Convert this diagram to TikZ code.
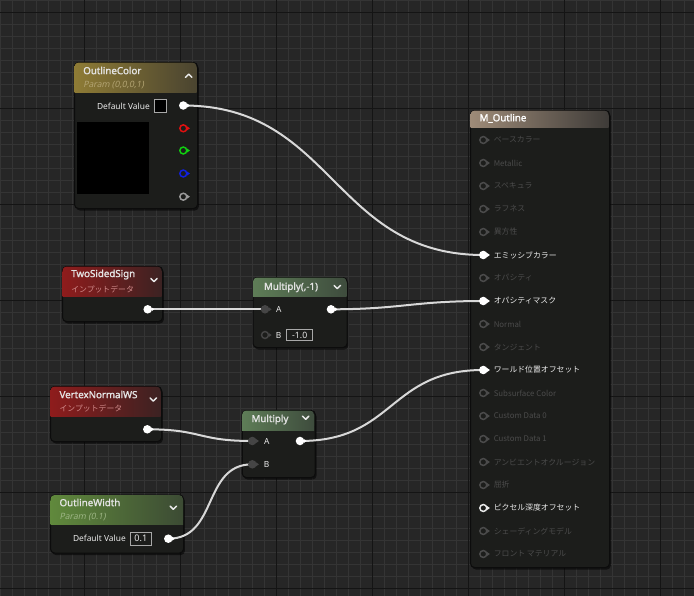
\documentclass[tikz,border=0pt]{standalone}
\usepackage{fontspec}
\setmainfont{Noto Sans}
\newfontfamily\jp{Noto Sans CJK JP}
\newfontfamily\ttlfont{Noto Sans}[FakeBold=1.6]
\newfontfamily\itfont{Noto Sans}[FakeSlant=0.2]
\usetikzlibrary{shadows}
\definecolor{bgc}{HTML}{262626}
\definecolor{minorc}{HTML}{343434}
\definecolor{majorc}{HTML}{141414}
\definecolor{bodyc}{HTML}{1C1D1B}
\definecolor{rimc}{HTML}{0C0C0C}
\definecolor{wirec}{HTML}{D8D8D8}
\definecolor{offc}{HTML}{4B4B4B}
\definecolor{onc}{HTML}{EAEAEA}
\definecolor{ttlc}{HTML}{E4E4E4}
\definecolor{goldL}{HTML}{8E7B35}
\definecolor{goldR}{HTML}{4A4430}
\definecolor{redL}{HTML}{8E1C1C}
\definecolor{redR}{HTML}{3C2222}
\definecolor{mulL}{HTML}{5E7D57}
\definecolor{mulR}{HTML}{3E4C3D}
\definecolor{grnL}{HTML}{60893C}
\definecolor{grnR}{HTML}{3C4B34}
\definecolor{tanL}{HTML}{9E8B78}
\definecolor{tanR}{HTML}{3E3B38}
\definecolor{goldsub}{HTML}{B3A473}
\definecolor{redsub}{HTML}{D08A8A}
\definecolor{grnsub}{HTML}{9DB585}
\definecolor{pinA}{HTML}{454545}
\definecolor{pinR}{HTML}{E01010}
\definecolor{pinG}{HTML}{10D010}
\definecolor{pinB}{HTML}{1020E0}
\definecolor{pinW}{HTML}{9A9A9A}
\definecolor{boxc}{HTML}{A8A8A8}
\tikzset{
  nbody/.style={draw=rimc, line width=0.8pt, fill=bodyc, rounded corners=3pt, inner sep=0pt, anchor=north west,
    drop shadow={shadow xshift=1pt, shadow yshift=-1.5pt, opacity=0.55, fill=black}},
  ttl/.style={font=\fontsize{7.3}{8}\selectfont\ttlfont, text=ttlc, inner sep=0pt},
  sub/.style={font=\fontsize{6.5}{7}\selectfont\itfont, inner sep=0pt},
  jsub/.style={font=\fontsize{5.9}{7}\selectfont\jp, inner sep=0pt},
  lbl/.style={font=\fontsize{6.3}{7}\selectfont, text=onc, inner sep=0pt},
  mlbl/.style={font=\fontsize{5.9}{7}\selectfont\jp, inner sep=0pt},
  vbox/.style={draw=boxc, line width=0.6pt, inner sep=0pt, text=onc},
  pinc/.style={circle, minimum size=5.2pt, inner sep=0pt, line width=1.1pt},
  wire/.style={draw=wirec, line width=1.5pt},
  chev/.style={draw=onc, line width=1.1pt, line cap=round, line join=round},
}
\newcommand{\hdr}[6]{%
  \fill[left color=#5, right color=#6, rounded corners=3pt] (#1,#2) rectangle (#3,#4);
  \fill[left color=#5, right color=#6] (#1,#2+5) rectangle (#3,#4);}
\newcommand{\opin}[5]{%
  \node[pinc, draw=#4, fill=#5] (#1) at (#2,#3) {};
  \fill[#4] ([xshift=-0.3pt]#1.east) ++(0,1.5pt) -- ++(2.1pt,-1.5pt) -- ++(-2.1pt,-1.5pt) -- cycle;}
\newcommand{\mrow}[6]{%
  \opin{#1}{483.3}{#2}{#3}{#4}
  \node[mlbl, text=#5, anchor=west] (#1-l) at (493.5,#2) {#6};}
\newcommand{\chevdown}[2]{\draw[chev] (#1-3.2,#2-1.6) -- (#1,#2+1.6) -- (#1+3.2,#2-1.6);}
\newcommand{\chevup}[2]{\draw[chev] (#1-3.2,#2+1.6) -- (#1,#2-1.6) -- (#1+3.2,#2+1.6);}
\begin{document}
\begin{tikzpicture}[x=0.75pt,y=-0.75pt]
% background grid
\fill[bgc] (0,0) rectangle (694,596);
\useasboundingbox (0,0) rectangle (694,596);
\foreach \i in {0,...,57} \draw[minorc, line width=0.75pt] (0.7+12*\i,0) -- (0.7+12*\i,596);
\foreach \i in {0,...,49} \draw[minorc, line width=0.75pt] (0,0.3+12*\i) -- (694,0.3+12*\i);
\foreach \i in {0,...,6} \draw[majorc, line width=1pt] (84.7+96*\i,0) -- (84.7+96*\i,596);
\foreach \i in {0,...,6} \draw[majorc, line width=1pt] (0,12.3+96*\i) -- (694,12.3+96*\i);

% ---------- node bodies ----------
\node[nbody, minimum width=123*0.75pt, minimum height=146*0.75pt] (oc) at (74,62) {};
\hdr{74.5}{62.5}{196.5}{92}{goldL}{goldR}
\node[nbody, minimum width=100*0.75pt, minimum height=55*0.75pt] (tss) at (62,266) {};
\hdr{62.5}{266.5}{161.5}{296}{redL}{redR}
\node[nbody, minimum width=94*0.75pt, minimum height=70*0.75pt] (mm1) at (252.5,277) {};
\hdr{253}{277.5}{346.5}{296}{mulL}{mulR}
\node[nbody, minimum width=111*0.75pt, minimum height=55*0.75pt] (vn) at (50,386) {};
\hdr{50.5}{386.5}{160.5}{416}{redL}{redR}
\node[nbody, minimum width=73*0.75pt, minimum height=67*0.75pt] (mul) at (241.7,410) {};
\hdr{242.2}{410.5}{314}{430}{mulL}{mulR}
\node[nbody, minimum width=133*0.75pt, minimum height=58*0.75pt] (ow) at (50,494.5) {};
\hdr{50.5}{495}{183}{524}{grnL}{grnR}
\node[nbody, minimum width=139*0.75pt, minimum height=457*0.75pt] (mo) at (470,110) {};
\hdr{470.5}{110.5}{608.5}{127}{tanL}{tanR}

% ---------- OutlineColor ----------
\node[ttl, anchor=west] (oc-t) at (83,70.5) {OutlineColor};
\node[sub, text=goldsub, anchor=west] (oc-s) at (83,85) {Param (0,0,0,1)};
\chevup{188.7}{75.7}
\node[lbl, anchor=east] (oc-dv) at (150,106) {Default Value};
\node[draw=boxc, fill=black, line width=0.6pt, minimum width=12.5*0.75pt, minimum height=12.5*0.75pt, inner sep=0pt] (oc-sw) at (160.3,105.8) {};
\fill[black] (76.7,121.7) rectangle (149,194);

% ---------- TwoSidedSign ----------
\node[ttl, anchor=west] (tss-t) at (71,274.5) {TwoSidedSign};
\node[jsub, text=redsub, anchor=west] (tss-s) at (71,289) {インプットデータ};
\chevdown{154}{280}

% ---------- Multiply(,-1) ----------
\node[ttl] (mm1-t) at (291,287.3) {Multiply(,-1)};
\chevdown{337.3}{287}
\node[lbl] (mm1-al) at (278.7,309.5) {A};
\node[lbl] (mm1-bl) at (278.7,335.3) {B};
\node[vbox, minimum width=26*0.75pt, minimum height=11.5*0.75pt, font=\fontsize{6.5}{7}\selectfont] (mm1-bv) at (299.7,335) {-1.0};

% ---------- VertexNormalWS ----------
\node[ttl, anchor=west] (vn-t) at (59.3,394.5) {VertexNormalWS};
\node[jsub, text=redsub, anchor=west] (vn-s) at (59.3,408.5) {インプットデータ};
\chevdown{153.3}{399.5}

% ---------- Multiply ----------
\node[ttl] (mul-t) at (270,419.5) {Multiply};
\chevdown{305.7}{417.7}
\node[lbl] (mul-al) at (266.7,441.3) {A};
\node[lbl] (mul-bl) at (266.7,464.6) {B};

% ---------- OutlineWidth ----------
\node[ttl, anchor=west] (ow-t) at (59.3,502.5) {OutlineWidth};
\node[sub, text=grnsub, anchor=west] (ow-s) at (59.3,517) {Param (0.1)};
\chevdown{173.3}{507.7}
\node[lbl, anchor=east] (ow-dv) at (126,538.7) {Default Value};
\node[vbox, minimum width=21.5*0.75pt, minimum height=13.5*0.75pt, font=\fontsize{6.8}{7}\selectfont] (ow-bv) at (140.8,538.7) {0.1};

% ---------- M_Outline ----------
\node[ttl, text=white, anchor=west] (mo-t) at (479.3,118.3) {M\_Outline};

% ---------- pin centres used by wires ----------
\coordinate (oc-p) at (183.3,105.5);
\coordinate (tss-p) at (147.7,309.3);
\coordinate (mm1-a) at (265,309.3);
\coordinate (mm1-o) at (331,309.3);
\coordinate (vn-p) at (147.3,429.3);
\coordinate (mul-a) at (252.3,441);
\coordinate (mul-b) at (252.3,464.3);
\coordinate (mul-o) at (300,441);
\coordinate (ow-p) at (168.3,538.7);
\coordinate (mo-em) at (483.3,255);
\coordinate (mo-om) at (483.3,301);
\coordinate (mo-wp) at (483.3,370);

% ---------- wires ----------
\draw[wire] (oc-p) .. controls +(150,0) and +(-150,0) .. (mo-em);
\draw[wire] (tss-p) -- (mm1-a);
\draw[wire] (mm1-o) .. controls +(70,0) and +(-70,0) .. (mo-om);
\draw[wire] (vn-p) .. controls +(55,0) and +(-55,0) .. (mul-a);
\draw[wire] (ow-p) .. controls +(50,0) and +(-50,0) .. (mul-b);
\draw[wire] (mul-o) .. controls +(95,0) and +(-95,0) .. (mo-wp);

% ---------- pin glyphs ----------
\opin{oc-pw}{183.3}{105.5}{white}{white}
\opin{oc-pr}{183.3}{128.3}{pinR}{bodyc}
\opin{oc-pg}{183.3}{150.5}{pinG}{bodyc}
\opin{oc-pb}{183.3}{173.5}{pinB}{bodyc}
\opin{oc-pa}{183.3}{196.7}{pinW}{bodyc}
\opin{tss-pw}{147.7}{309.3}{white}{white}
\opin{mm1-pa}{265}{309.3}{pinA}{pinA}
\opin{mm1-pb}{265}{335}{pinA}{bodyc}
\opin{mm1-pw}{331}{309.3}{white}{white}
\opin{vn-pw}{147.3}{429.3}{white}{white}
\opin{mul-pa}{252.3}{441}{pinA}{pinA}
\opin{mul-pb}{252.3}{464.3}{pinA}{pinA}
\opin{mul-pw}{300}{441}{white}{white}
\opin{ow-pw}{168.3}{538.7}{white}{white}

\mrow{mo1}{140}{offc}{bodyc}{offc}{ベースカラー}
\mrow{mo2}{163}{offc}{bodyc}{offc}{Metallic}
\mrow{mo3}{186}{offc}{bodyc}{offc}{スペキュラ}
\mrow{mo4}{209}{offc}{bodyc}{offc}{ラフネス}
\mrow{mo5}{232}{offc}{bodyc}{offc}{異方性}
\mrow{mo6}{255}{white}{white}{onc}{エミッシブカラー}
\mrow{mo7}{278}{offc}{bodyc}{offc}{オパシティ}
\mrow{mo8}{301}{white}{white}{onc}{オパシティマスク}
\mrow{mo9}{324}{offc}{bodyc}{offc}{Normal}
\mrow{mo10}{347}{offc}{bodyc}{offc}{タンジェント}
\mrow{mo11}{370}{white}{white}{onc}{ワールド位置オフセット}
\mrow{mo12}{393}{offc}{bodyc}{offc}{Subsurface Color}
\mrow{mo13}{416}{offc}{bodyc}{offc}{Custom Data 0}
\mrow{mo14}{439}{offc}{bodyc}{offc}{Custom Data 1}
\mrow{mo15}{462}{offc}{bodyc}{offc}{アンビエントオクルージョン}
\mrow{mo16}{485}{offc}{bodyc}{offc}{屈折}
\mrow{mo17}{508}{onc}{bodyc}{onc}{ピクセル深度オフセット}
\mrow{mo18}{531}{offc}{bodyc}{offc}{シェーディングモデル}
\mrow{mo19}{554}{offc}{bodyc}{offc}{フロント マテリアル}
\end{tikzpicture}
\end{document}
